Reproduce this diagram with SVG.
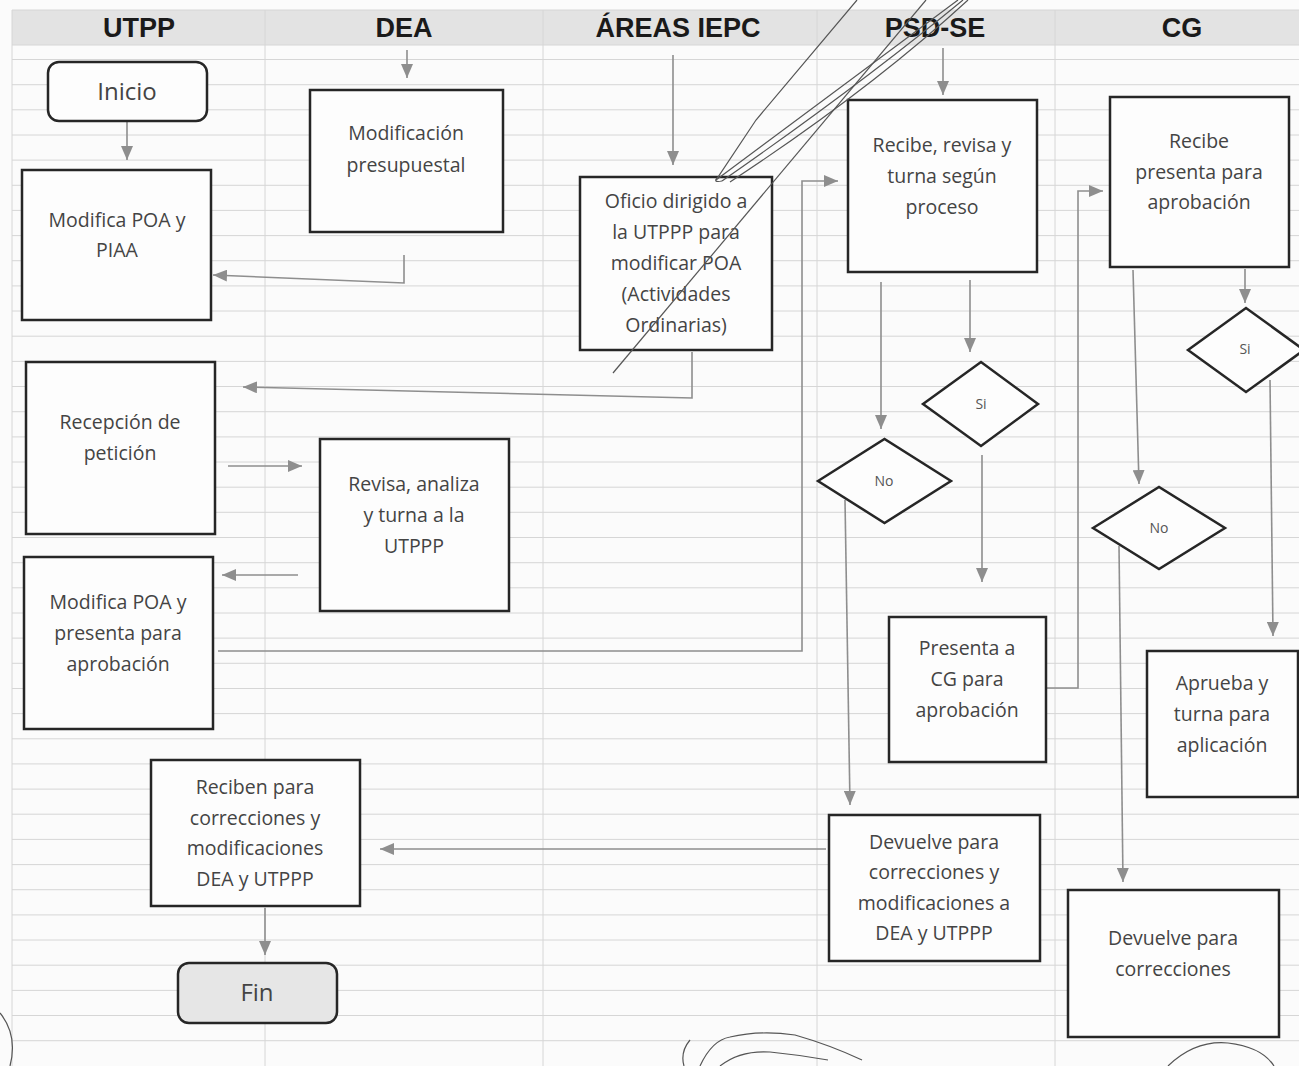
<svg xmlns="http://www.w3.org/2000/svg" width="1299" height="1066" viewBox="0 0 1299 1066">
<defs>
<style>
.grid line{stroke:#d6d6d6;stroke-width:1}
.hd{font-family:"Liberation Sans",Arial,sans-serif;font-weight:bold;font-size:27px;fill:#1a1a1a;text-anchor:middle}
.box{fill:#fdfdfd;stroke:#262626;stroke-width:2.5}
.dia{fill:#fdfdfd;stroke:#262626;stroke-width:2.5}
.t{font-family:"Open Sans","Noto Sans",sans-serif;font-size:19.5px;fill:#444;text-anchor:middle}
.tb{font-family:"Open Sans","Noto Sans",sans-serif;font-size:24px;fill:#444;text-anchor:middle}
.ts{font-family:"Open Sans","Noto Sans",sans-serif;font-size:14px;fill:#555;text-anchor:middle}
.c path{fill:none;stroke:#8e8e8e;stroke-width:1.6;marker-end:url(#ah)}
.sc path{fill:none;stroke:#555;stroke-width:1.2}
</style>
<marker id="ah" viewBox="0 0 14 12" refX="14" refY="6" markerWidth="14" markerHeight="12" markerUnits="userSpaceOnUse" orient="auto">
<path d="M0,0 L14,6 L0,12 z" fill="#8e8e8e"/>
</marker>
</defs>
<rect width="1299" height="1066" fill="#fbfbfb"/>
<rect x="12" y="10" width="1287" height="35" fill="#e3e3e3"/>
<g class="grid">
<line x1="12" y1="10" x2="1299" y2="10"/>
<line x1="12" y1="45" x2="1299" y2="45"/>
<line x1="12" y1="59.5" x2="1299" y2="59.5"/>
<line x1="12" y1="84.7" x2="1299" y2="84.7"/>
<line x1="12" y1="109.8" x2="1299" y2="109.8"/>
<line x1="12" y1="135" x2="1299" y2="135"/>
<line x1="12" y1="160.1" x2="1299" y2="160.1"/>
<line x1="12" y1="185.3" x2="1299" y2="185.3"/>
<line x1="12" y1="210.4" x2="1299" y2="210.4"/>
<line x1="12" y1="235.6" x2="1299" y2="235.6"/>
<line x1="12" y1="260.7" x2="1299" y2="260.7"/>
<line x1="12" y1="285.9" x2="1299" y2="285.9"/>
<line x1="12" y1="311" x2="1299" y2="311"/>
<line x1="12" y1="336.2" x2="1299" y2="336.2"/>
<line x1="12" y1="361.4" x2="1299" y2="361.4"/>
<line x1="12" y1="386.5" x2="1299" y2="386.5"/>
<line x1="12" y1="411.7" x2="1299" y2="411.7"/>
<line x1="12" y1="436.9" x2="1299" y2="436.9"/>
<line x1="12" y1="462" x2="1299" y2="462"/>
<line x1="12" y1="487.2" x2="1299" y2="487.2"/>
<line x1="12" y1="512.3" x2="1299" y2="512.3"/>
<line x1="12" y1="537.5" x2="1299" y2="537.5"/>
<line x1="12" y1="562.7" x2="1299" y2="562.7"/>
<line x1="12" y1="587.8" x2="1299" y2="587.8"/>
<line x1="12" y1="613" x2="1299" y2="613"/>
<line x1="12" y1="638.1" x2="1299" y2="638.1"/>
<line x1="12" y1="663.3" x2="1299" y2="663.3"/>
<line x1="12" y1="688.5" x2="1299" y2="688.5"/>
<line x1="12" y1="713.6" x2="1299" y2="713.6"/>
<line x1="12" y1="738.8" x2="1299" y2="738.8"/>
<line x1="12" y1="763.9" x2="1299" y2="763.9"/>
<line x1="12" y1="789.1" x2="1299" y2="789.1"/>
<line x1="12" y1="814.2" x2="1299" y2="814.2"/>
<line x1="12" y1="839.4" x2="1299" y2="839.4"/>
<line x1="12" y1="864.6" x2="1299" y2="864.6"/>
<line x1="12" y1="889.7" x2="1299" y2="889.7"/>
<line x1="12" y1="914.9" x2="1299" y2="914.9"/>
<line x1="12" y1="940" x2="1299" y2="940"/>
<line x1="12" y1="965.2" x2="1299" y2="965.2"/>
<line x1="12" y1="990.4" x2="1299" y2="990.4"/>
<line x1="12" y1="1015.5" x2="1299" y2="1015.5"/>
<line x1="12" y1="1040.7" x2="1299" y2="1040.7"/>
<line x1="12" y1="10" x2="12" y2="1066"/>
<line x1="265" y1="10" x2="265" y2="1066"/>
<line x1="543" y1="10" x2="543" y2="1066"/>
<line x1="817" y1="10" x2="817" y2="1066"/>
<line x1="1055" y1="10" x2="1055" y2="1066"/>
</g>
<g id="headers">
<text class="hd" x="139" y="37">UTPP</text>
<text class="hd" x="404" y="37">DEA</text>
<text class="hd" x="678" y="37">ÁREAS IEPC</text>
<text class="hd" x="935" y="37">PSD-SE</text>
<text class="hd" x="1182" y="37">CG</text>
</g>
<g class="c" id="connectors">
<path d="M127,122 V160"/>
<path d="M407,50 V78"/>
<path d="M673,55 V165"/>
<path d="M943,48 V95"/>
<path d="M404,255 V283 L213,275"/>
<path d="M692,352 V398 L243,387"/>
<path d="M228,466 H302"/>
<path d="M298,575 H222"/>
<path d="M218,651 H802 V181 H838"/>
<path d="M881,282 V429"/>
<path d="M970,280 V352"/>
<path d="M982,455 V582"/>
<path d="M845,500 L850,805"/>
<path d="M1047,688 H1078 V191 H1103"/>
<path d="M1245,269 V303"/>
<path d="M1133,270 L1139,484"/>
<path d="M1270,380 L1273,636"/>
<path d="M1119,546 L1123,882"/>
<path d="M826,849 H380"/>
<path d="M265,908 V955"/>
</g>
<g id="n-inicio"><rect class="box" x="48" y="62" width="159" height="59" rx="11"/><text class="tb" x="127" y="100">Inicio</text></g>
<g id="n-modifica-poa-piaa"><rect class="box" x="22" y="170" width="189" height="150"/><text class="t" x="117" y="227">Modifica POA y</text><text class="t" x="117" y="257">PIAA</text></g>
<g id="n-modificacion"><rect class="box" x="310" y="90" width="193" height="142"/><text class="t" x="406" y="140">Modificación</text><text class="t" x="406" y="172">presupuestal</text></g>
<g id="n-oficio"><rect class="box" x="580" y="177" width="192" height="173"/><text class="t" x="676" y="208">Oficio dirigido a</text><text class="t" x="676" y="239">la UTPPP para</text><text class="t" x="676" y="270">modificar POA</text><text class="t" x="676" y="301">(Actividades</text><text class="t" x="676" y="332">Ordinarias)</text></g>
<g id="n-recibe-psd"><rect class="box" x="848" y="100" width="189" height="172"/><text class="t" x="942" y="152">Recibe, revisa y</text><text class="t" x="942" y="183">turna según</text><text class="t" x="942" y="214">proceso</text></g>
<g id="n-recibe-cg"><rect class="box" x="1110" y="97" width="179" height="170"/><text class="t" x="1199" y="148">Recibe</text><text class="t" x="1199" y="179">presenta para</text><text class="t" x="1199" y="209">aprobación</text></g>
<g id="n-recepcion"><rect class="box" x="26" y="362" width="189" height="172"/><text class="t" x="120" y="429">Recepción de</text><text class="t" x="120" y="460">petición</text></g>
<g id="n-revisa"><rect class="box" x="320" y="439" width="189" height="172"/><text class="t" x="414" y="491">Revisa, analiza</text><text class="t" x="414" y="522">y turna a la</text><text class="t" x="414" y="553">UTPPP</text></g>
<g id="n-modifica-presenta"><rect class="box" x="24" y="557" width="189" height="172"/><text class="t" x="118" y="609">Modifica POA y</text><text class="t" x="118" y="640">presenta para</text><text class="t" x="118" y="671">aprobación</text></g>
<g id="n-no-psd"><path class="dia" d="M818,481 L884.5,439 L951,481 L884.5,523 z"/><text class="ts" x="884" y="486">No</text></g>
<g id="n-si-psd"><path class="dia" d="M923,404 L981,362 L1038,404 L981,446 z"/><text class="ts" x="981" y="409">Si</text></g>
<g id="n-si-cg"><path class="dia" d="M1188,350 L1246,308 L1304,350 L1246,392 z"/><text class="ts" x="1245" y="354">Si</text></g>
<g id="n-no-cg"><path class="dia" d="M1093,528 L1159,487 L1225,528 L1159,569 z"/><text class="ts" x="1159" y="533">No</text></g>
<g id="n-presenta-cg"><rect class="box" x="889" y="617" width="157" height="145"/><text class="t" x="967" y="655">Presenta a</text><text class="t" x="967" y="686">CG para</text><text class="t" x="967" y="717">aprobación</text></g>
<g id="n-aprueba"><rect class="box" x="1147" y="651" width="151" height="146"/><text class="t" x="1222" y="690">Aprueba y</text><text class="t" x="1222" y="721">turna para</text><text class="t" x="1222" y="752">aplicación</text></g>
<g id="n-reciben"><rect class="box" x="151" y="760" width="209" height="146"/><text class="t" x="255" y="794">Reciben para</text><text class="t" x="255" y="825">correcciones y</text><text class="t" x="255" y="855">modificaciones</text><text class="t" x="255" y="886">DEA y UTPPP</text></g>
<g id="n-devuelve-psd"><rect class="box" x="829" y="815" width="211" height="146"/><text class="t" x="934" y="849">Devuelve para</text><text class="t" x="934" y="879">correcciones y</text><text class="t" x="934" y="910">modificaciones a</text><text class="t" x="934" y="940">DEA y UTPPP</text></g>
<g id="n-devuelve-cg"><rect class="box" x="1068" y="890" width="211" height="147"/><text class="t" x="1173" y="945">Devuelve para</text><text class="t" x="1173" y="976">correcciones</text></g>
<g id="n-fin"><rect x="178" y="963" width="159" height="60" rx="11" fill="#e6e6e6" stroke="#262626" stroke-width="2.5"/><text class="tb" x="257" y="1001">Fin</text></g>
<g class="sc" id="scribbles">
<path d="M857,0 L756,120 L718,177 Q712,183 722,181"/>
<path d="M926,0 L613,373"/>
<path d="M958,0 Q850,80 716,180"/>
<path d="M963,0 Q860,85 722,181"/>
<path d="M968,0 Q870,90 730,182"/>
<path d="M0,1013 Q18,1035 10,1066"/>
<path d="M690,1040 Q680,1052 684,1066"/>
<path d="M700,1066 Q712,1040 730,1037 Q760,1030 795,1035 Q830,1045 862,1060"/>
<path d="M720,1066 Q740,1050 770,1052 Q800,1055 828,1060"/>
<path d="M1168,1066 Q1195,1040 1228,1043 Q1262,1047 1274,1066"/>
</g>
</svg>
